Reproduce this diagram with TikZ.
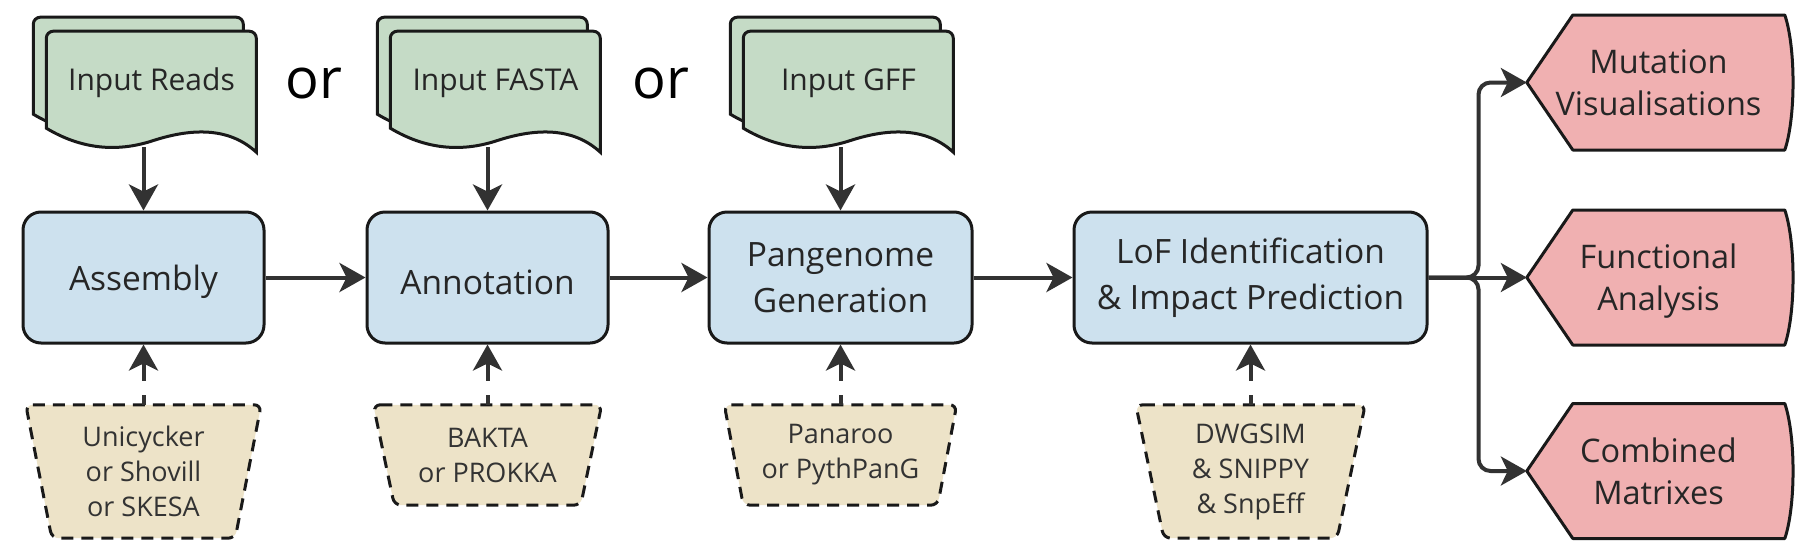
\documentclass[tikz,border=0pt]{standalone}
\usepackage{fontspec}
\setmainfont{Open Sans}
\usetikzlibrary{arrows.meta, calc, backgrounds}

\definecolor{docgreen}{RGB}{197,219,198}
\definecolor{procblue}{RGB}{205,225,238}
\definecolor{tooltan}{RGB}{237,227,200}
\definecolor{outpink}{RGB}{240,176,177}
\definecolor{edgegray}{RGB}{25,25,25}
\definecolor{linegray}{RGB}{50,50,50}

\tikzstyle{process}   = [rectangle, rounded corners=18pt, minimum width=241pt, minimum height=131pt,
                          text centered, align=center, draw=edgegray, line width=3pt, fill=procblue,
                          text=black!85, execute at begin node={\rule{0pt}{34pt}},
                          font=\fontsize{33.5}{46}\selectfont]
\tikzstyle{inputdoc}  = [minimum width=210pt, minimum height=128pt, text=black!85,
                          font=\fontsize{30}{38}\selectfont]
\tikzstyle{tool}      = [minimum width=235pt, minimum height=133pt, align=center, text=black!80,
                          font=\fontsize{27}{35}\selectfont]
\tikzstyle{output}    = [minimum width=263pt, minimum height=135pt, align=center, text=black!85,
                          text depth=0pt, font=\fontsize{32.5}{42}\selectfont]
\tikzstyle{docsheet}  = [draw=edgegray, line width=3pt, fill=docgreen]
\tikzstyle{toolsheet} = [draw=edgegray, line width=3pt, fill=tooltan, rounded corners=7pt,
                          dash pattern=on 12pt off 8pt]
\tikzstyle{outsheet}  = [draw=edgegray, line width=3pt, fill=outpink, line join=round]
\tikzstyle{arrow}     = [line width=4pt, draw=linegray, -{Stealth[length=26pt, width=29pt, inset=7pt]}]
\tikzstyle{dasharrow} = [arrow, dash pattern=on 10pt off 14pt on 40pt off 0pt]

% wavy document outline, origin at the node's south west
\newcommand{\docshape}{(0,-19) -- (0,-60) [rounded corners=7pt] -- (0,-116) -- (210,-116)
  -- (210,-40) [sharp corners] -- (210,5) .. controls (185,-18) and (150,-21) .. (105,-6)
  .. controls (70,5) and (35,2) .. (0,-19) -- cycle}
% display outline, origin at the node's west
\newcommand{\outshape}{(0,0) -- (46,-67.5) -- (258,-67.5) .. controls (269,-35) and (269,35) .. (258,67.5)
  -- (46,67.5) -- cycle}
% trapezium outline, #1 node, #2 inset at the bottom
\newcommand{\toolshape}[2]{(#1.north west) -- (#1.north east) -- ($(#1.south east)+(-#2,0)$)
  -- ($(#1.south west)+(#2,0)$) -- cycle}

\begin{document}
\begin{tikzpicture}[x=1pt, y=-1pt]

  \useasboundingbox (0,0) rectangle (1810,555);

  % Inputs
  \node (reads) [inputdoc] at (151.5, 83) {Input Reads};
  \node (fasta) [inputdoc] at (495.5, 83) {Input FASTA};
  \node (gff)   [inputdoc] at (848.5, 83) {Input GFF};
  \node (or1) at (314, 84) {\fontsize{56}{60}\selectfont or};
  \node (or2) at (661, 84) {\fontsize{56}{60}\selectfont or};

  % Processes
  \node (assembly) [process] at (143.5, 277.5) {Assembly};
  \node (annot)    [process] at (487.5, 277.5) {Annotation};
  \node (pangen)   [process, minimum width=263pt] at (840.5, 277.5) {Pangenome\\Generation};
  \node (lof)      [process, minimum width=353pt] at (1250.5, 277.5) {LoF Identification\\\& Impact Prediction};

  % Tools
  \node (unic)    [tool] at (143.5, 471.5) {Unicycker\\or Shovill\\or SKESA};
  \node (bakta)   [tool, minimum width=228pt, minimum height=100pt] at (487.5, 455) {BAKTA\\or PROKKA};
  \node (panaroo) [tool, minimum width=232pt, minimum height=100pt] at (840.5, 455) {Panaroo\\or PythPanG};
  \node (dwgsim)  [tool, minimum width=229pt] at (1250.5, 471.5) {DWGSIM\\\& SNIPPY\\\& SnpEff};

  % Outputs
  \node (mut)  [output] at (1658.5, 82.5)  {Mutation\\Visualisations};
  \node (func) [output] at (1658.5, 277.5) {Functional\\Analysis};
  \node (comb) [output] at (1658.5, 471)   {Combined\\Matrixes};

  \begin{scope}[on background layer]
    \fill[white] (0,0) rectangle (1810,555);
    \foreach \d in {reads, fasta, gff} {
      \begin{scope}[shift={(\d.south west)}]
        \draw[docsheet, shift={(-13,-14)}] \docshape;
        \draw[docsheet] \docshape;
      \end{scope}
    }
    \foreach \o in {mut, func, comb} {
      \draw[outsheet, shift={(\o.west)}] \outshape;
    }
    \draw[toolsheet] \toolshape{unic}{26};
    \draw[toolsheet] \toolshape{bakta}{21};
    \draw[toolsheet] \toolshape{panaroo}{19};
    \draw[toolsheet] \toolshape{dwgsim}{28};
  \end{scope}

  % Inputs -> processes
  \draw[arrow] (reads.south -| assembly.north) -- (assembly.north);
  \draw[arrow] (fasta.south -| annot.north) -- (annot.north);
  \draw[arrow] (gff.south -| pangen.north) -- (pangen.north);

  % Main flow
  \draw[arrow] (assembly) -- (annot);
  \draw[arrow] (annot) -- (pangen);
  \draw[arrow] (pangen) -- (lof);

  % Tools -> processes
  \draw[dasharrow] (unic) -- (assembly);
  \draw[dasharrow] (bakta) -- (annot);
  \draw[dasharrow] (panaroo) -- (pangen);
  \draw[dasharrow] (dwgsim) -- (lof);

  % LoF -> outputs
  \coordinate (split) at ($(lof.east)+(50,0)$);
  \draw[arrow, rounded corners=12pt] (lof.east) -- (split) |- (mut.west);
  \draw[arrow] (lof.east) -- (func.west);
  \draw[arrow, rounded corners=12pt] (lof.east) -- (split) |- (comb.west);

\end{tikzpicture}
\end{document}
